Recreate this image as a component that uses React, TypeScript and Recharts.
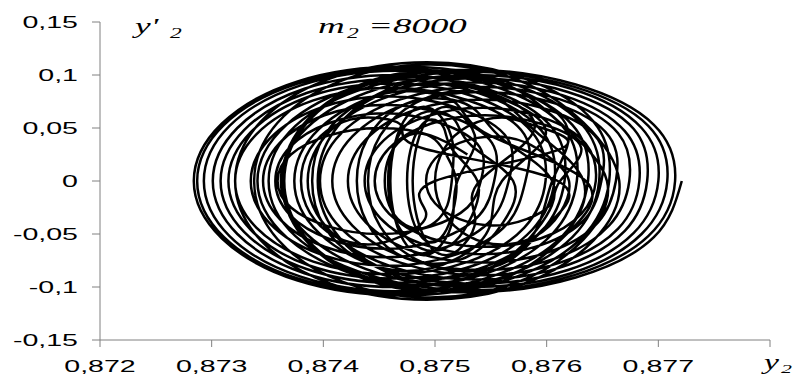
import { LineChart, Line, XAxis, YAxis } from 'recharts';

// phase portrait y2 / y'2, m2 = 8000 - loops (x = y2, y = y'2)
const xTicks = [0.872, 0.873, 0.874, 0.875, 0.876, 0.877, 0.878];
const yTicks = [-0.15, -0.1, -0.05, 0, 0.05, 0.1, 0.15];

// loops centred right of 0.875 (largest first)
const rightLoopX = [
    [0.87721, 0.87696, 0.87626, 0.87531, 0.87436, 0.87367, 0.87341, 0.87367, 0.87436, 0.87531, 0.87626, 0.87696],
    [0.87715, 0.87691, 0.87624, 0.87533, 0.87442, 0.87375, 0.87351, 0.87375, 0.87442, 0.87533, 0.87624, 0.87691],
    [0.87708, 0.87685, 0.87622, 0.87535, 0.87449, 0.87385, 0.87362, 0.87385, 0.87449, 0.87535, 0.87622, 0.87685],
    [0.877, 0.87678, 0.87619, 0.87537, 0.87456, 0.87396, 0.87374, 0.87396, 0.87456, 0.87537, 0.87619, 0.87678],
    [0.8769, 0.8767, 0.87614, 0.87538, 0.87462, 0.87406, 0.87386, 0.87406, 0.87462, 0.87538, 0.87614, 0.8767],
    [0.87683, 0.87664, 0.87612, 0.8754, 0.87469, 0.87416, 0.87397, 0.87416, 0.87469, 0.8754, 0.87612, 0.87664],
    [0.87674, 0.87656, 0.87608, 0.87541, 0.87475, 0.87426, 0.87408, 0.87426, 0.87475, 0.87541, 0.87608, 0.87656],
    [0.87662, 0.87646, 0.87602, 0.87542, 0.87482, 0.87438, 0.87422, 0.87438, 0.87482, 0.87542, 0.87602, 0.87646],
    [0.87649, 0.87635, 0.87596, 0.87543, 0.8749, 0.87451, 0.87437, 0.87451, 0.8749, 0.87543, 0.87596, 0.87635],
    [0.87644, 0.87631, 0.87595, 0.87545, 0.87496, 0.87459, 0.87446, 0.87459, 0.87496, 0.87545, 0.87595, 0.87631],
    [0.87612, 0.87604, 0.87582, 0.87552, 0.87522, 0.875, 0.87492, 0.875, 0.87522, 0.87552, 0.87582, 0.87604],
];
const rightLoopY = [
    [0, -0.053, -0.091, -0.105, -0.091, -0.053, 0, 0.053, 0.091, 0.105, 0.091, 0.053],
    [0, -0.052, -0.089, -0.103, -0.089, -0.052, 0, 0.052, 0.089, 0.103, 0.089, 0.052],
    [0, -0.05, -0.087, -0.1, -0.087, -0.05, 0, 0.05, 0.087, 0.1, 0.087, 0.05],
    [0, -0.049, -0.084, -0.097, -0.084, -0.049, 0, 0.049, 0.084, 0.097, 0.084, 0.049],
    [0, -0.047, -0.081, -0.093, -0.081, -0.047, 0, 0.047, 0.081, 0.093, 0.081, 0.047],
    [0, -0.045, -0.077, -0.089, -0.077, -0.045, 0, 0.045, 0.077, 0.089, 0.077, 0.045],
    [0, -0.042, -0.073, -0.084, -0.073, -0.042, 0, 0.042, 0.073, 0.084, 0.073, 0.042],
    [0, -0.039, -0.067, -0.077, -0.067, -0.039, 0, 0.039, 0.067, 0.077, 0.067, 0.039],
    [0, -0.035, -0.06, -0.069, -0.06, -0.035, 0, 0.035, 0.06, 0.069, 0.06, 0.035],
    [0, -0.031, -0.054, -0.062, -0.054, -0.031, 0, 0.031, 0.054, 0.062, 0.054, 0.031],
    [0, -0.021, -0.036, -0.042, -0.036, -0.021, 0, 0.021, 0.036, 0.042, 0.036, 0.021],
];

// crossing loops in the middle, alternating right / left of 0.875
const crossLoopX = [
    [0.8762, 0.87612, 0.8759, 0.8756, 0.8753, 0.87508, 0.875, 0.87508, 0.8753, 0.8756, 0.8759, 0.87612],
    [0.875, 0.87492, 0.8747, 0.8744, 0.8741, 0.87388, 0.8738, 0.87388, 0.8741, 0.8744, 0.8747, 0.87492],
    [0.8761, 0.87599, 0.87568, 0.87525, 0.87483, 0.87451, 0.8744, 0.87451, 0.87483, 0.87525, 0.87568, 0.87599],
    [0.8756, 0.87549, 0.87518, 0.87475, 0.87433, 0.87401, 0.8739, 0.87401, 0.87433, 0.87475, 0.87518, 0.87549],
    [0.87635, 0.87619, 0.87575, 0.87515, 0.87455, 0.87411, 0.87395, 0.87411, 0.87455, 0.87515, 0.87575, 0.87619],
    [0.87605, 0.87589, 0.87545, 0.87485, 0.87425, 0.87381, 0.87365, 0.87381, 0.87425, 0.87485, 0.87545, 0.87589],
    [0.8754, 0.87536, 0.87525, 0.8751, 0.87495, 0.87484, 0.8748, 0.87484, 0.87495, 0.8751, 0.87525, 0.87536],
    [0.8752, 0.87516, 0.87505, 0.8749, 0.87475, 0.87464, 0.8746, 0.87464, 0.87475, 0.8749, 0.87505, 0.87516],
];
const crossLoopY = [
    [0, -0.03, -0.052, -0.06, -0.052, -0.03, 0, 0.03, 0.052, 0.06, 0.052, 0.03],
    [0, -0.03, -0.052, -0.06, -0.052, -0.03, 0, 0.03, 0.052, 0.06, 0.052, 0.03],
    [0, -0.043, -0.074, -0.085, -0.074, -0.043, 0, 0.043, 0.074, 0.085, 0.074, 0.043],
    [0, -0.043, -0.074, -0.085, -0.074, -0.043, 0, 0.043, 0.074, 0.085, 0.074, 0.043],
    [0, -0.049, -0.085, -0.098, -0.085, -0.049, 0, 0.049, 0.085, 0.098, 0.085, 0.049],
    [0, -0.049, -0.085, -0.098, -0.085, -0.049, 0, 0.049, 0.085, 0.098, 0.085, 0.049],
    [0, -0.035, -0.061, -0.07, -0.061, -0.035, 0, 0.035, 0.061, 0.07, 0.061, 0.035],
    [0, -0.035, -0.061, -0.07, -0.061, -0.035, 0, 0.035, 0.061, 0.07, 0.061, 0.035],
];

// loops around 0.875 (smallest first)
const midLoopX = [
    [0.87515, 0.87511, 0.875, 0.87485, 0.8747, 0.87459, 0.87455, 0.87459, 0.8747, 0.87485, 0.875, 0.87511],
    [0.87519, 0.87516, 0.87508, 0.87497, 0.87486, 0.87478, 0.87475, 0.87478, 0.87486, 0.87497, 0.87508, 0.87516],
    [0.87538, 0.87533, 0.87518, 0.87498, 0.87478, 0.87463, 0.87458, 0.87463, 0.87478, 0.87498, 0.87518, 0.87533],
    [0.8757, 0.87561, 0.87535, 0.875, 0.87465, 0.87439, 0.8743, 0.87439, 0.87465, 0.875, 0.87535, 0.87561],
    [0.87605, 0.87591, 0.87553, 0.875, 0.87448, 0.87409, 0.87395, 0.87409, 0.87448, 0.875, 0.87553, 0.87591],
    [0.87633, 0.87615, 0.87566, 0.87498, 0.87431, 0.87381, 0.87363, 0.87381, 0.87431, 0.87498, 0.87566, 0.87615],
    [0.87654, 0.87633, 0.87575, 0.87496, 0.87417, 0.87359, 0.87338, 0.87359, 0.87417, 0.87496, 0.87575, 0.87633],
    [0.87665, 0.87642, 0.87579, 0.87493, 0.87407, 0.87344, 0.87321, 0.87344, 0.87407, 0.87493, 0.87579, 0.87642],
];
const midLoopY = [
    [0, -0.023, -0.039, -0.045, -0.039, -0.023, 0, 0.023, 0.039, 0.045, 0.039, 0.023],
    [0, -0.029, -0.05, -0.058, -0.05, -0.029, 0, 0.029, 0.05, 0.058, 0.05, 0.029],
    [0, -0.033, -0.057, -0.066, -0.057, -0.033, 0, 0.033, 0.057, 0.066, 0.057, 0.033],
    [0, -0.039, -0.068, -0.078, -0.068, -0.039, 0, 0.039, 0.068, 0.078, 0.068, 0.039],
    [0, -0.046, -0.08, -0.092, -0.08, -0.046, 0, 0.046, 0.08, 0.092, 0.08, 0.046],
    [0, -0.052, -0.09, -0.104, -0.09, -0.052, 0, 0.052, 0.09, 0.104, 0.09, 0.052],
    [0, -0.055, -0.095, -0.11, -0.095, -0.055, 0, 0.055, 0.095, 0.11, 0.095, 0.055],
    [0, -0.056, -0.097, -0.112, -0.097, -0.056, 0, 0.056, 0.097, 0.112, 0.097, 0.056],
];

// loops centred left of 0.875 (largest first)
const leftLoopX = [
    [0.87656, 0.87631, 0.87563, 0.8747, 0.87377, 0.87309, 0.87284, 0.87309, 0.87377, 0.8747, 0.87563, 0.87631],
    [0.87647, 0.87623, 0.87557, 0.87467, 0.87377, 0.87311, 0.87287, 0.87311, 0.87377, 0.87467, 0.87557, 0.87623],
    [0.87637, 0.87614, 0.87551, 0.87465, 0.87379, 0.87316, 0.87293, 0.87316, 0.87379, 0.87465, 0.87551, 0.87614],
    [0.87627, 0.87605, 0.87546, 0.87464, 0.87383, 0.87323, 0.87301, 0.87323, 0.87383, 0.87464, 0.87546, 0.87605],
    [0.87616, 0.87595, 0.87539, 0.87462, 0.87385, 0.87329, 0.87308, 0.87329, 0.87385, 0.87462, 0.87539, 0.87595],
    [0.87607, 0.87587, 0.87534, 0.87461, 0.87388, 0.87335, 0.87315, 0.87335, 0.87388, 0.87461, 0.87534, 0.87587],
    [0.87599, 0.8758, 0.8753, 0.8746, 0.87391, 0.8734, 0.87321, 0.8734, 0.87391, 0.8746, 0.8753, 0.8758],
    [0.87581, 0.87565, 0.8752, 0.87458, 0.87397, 0.87352, 0.87335, 0.87352, 0.87397, 0.87458, 0.8752, 0.87565],
    [0.87566, 0.87551, 0.87511, 0.87456, 0.87401, 0.87361, 0.87346, 0.87361, 0.87401, 0.87456, 0.87511, 0.87551],
    [0.87553, 0.8754, 0.87504, 0.87455, 0.87406, 0.8737, 0.87357, 0.8737, 0.87406, 0.87455, 0.87504, 0.8754],
    [0.87541, 0.87529, 0.87496, 0.8745, 0.87405, 0.87371, 0.87359, 0.87371, 0.87405, 0.8745, 0.87496, 0.87529],
];
const leftLoopY = [
    [0, -0.054, -0.094, -0.108, -0.094, -0.054, 0, 0.054, 0.094, 0.108, 0.094, 0.054],
    [0, -0.053, -0.092, -0.106, -0.092, -0.053, 0, 0.053, 0.092, 0.106, 0.092, 0.053],
    [0, -0.052, -0.09, -0.104, -0.09, -0.052, 0, 0.052, 0.09, 0.104, 0.09, 0.052],
    [0, -0.05, -0.087, -0.1, -0.087, -0.05, 0, 0.05, 0.087, 0.1, 0.087, 0.05],
    [0, -0.048, -0.083, -0.096, -0.083, -0.048, 0, 0.048, 0.083, 0.096, 0.083, 0.048],
    [0, -0.046, -0.08, -0.092, -0.08, -0.046, 0, 0.046, 0.08, 0.092, 0.08, 0.046],
    [0, -0.044, -0.076, -0.088, -0.076, -0.044, 0, 0.044, 0.076, 0.088, 0.076, 0.044],
    [0, -0.04, -0.069, -0.08, -0.069, -0.04, 0, 0.04, 0.069, 0.08, 0.069, 0.04],
    [0, -0.036, -0.062, -0.072, -0.062, -0.036, 0, 0.036, 0.062, 0.072, 0.062, 0.036],
    [0, -0.032, -0.055, -0.064, -0.055, -0.032, 0, 0.032, 0.055, 0.064, 0.055, 0.032],
    [0, -0.025, -0.043, -0.05, -0.043, -0.025, 0, 0.025, 0.043, 0.05, 0.043, 0.025],
];

const families: [number[][], number[][]][] = [
    [rightLoopX, rightLoopY],
    [crossLoopX, crossLoopY],
    [midLoopX, midLoopY],
    [leftLoopX, leftLoopY],
];

// one continuous trajectory, loop after loop
const trajectory = families.flatMap(([xs, ys]) =>
    xs.flatMap((row, i) => row.map((x, j) => ({ x, y: ys[i][j] })))
);

const SANS = '"Liberation Sans", Arial, sans-serif';
const SERIF = '"Liberation Serif", "Times New Roman", serif';
const STRETCH = 1.68; // text in the picture is stretched horizontally

const fmt = (v: number) => String(v).replace('.', ',');

const XTick = ({ x, payload }: any) => {
    const v = payload.value as number;
    const label = Math.abs(v - 0.878) < 1e-9 ? '' : fmt(v);
    return (
        <g transform={`translate(${x},372) scale(${STRETCH},1)`}>
            <text textAnchor="middle" fontSize={17} fontFamily={SANS} fill="#000">{label}</text>
        </g>
    );
};

const YTick = ({ y, payload }: any) => (
    <g transform={`translate(78,${y + 6}) scale(${STRETCH},1)`}>
        <text textAnchor="end" fontSize={17} fontFamily={SANS} fill="#000">{fmt(payload.value)}</text>
    </g>
);

const Italic = ({ x, y, size, children }: any) => (
    <g transform={`translate(${x},${y}) scale(${STRETCH},1)`}>
        <text fontSize={size} fontStyle="italic" fontFamily={SERIF} fill="#000">{children}</text>
    </g>
);

export default function App() {
    return (
        <div style={{ position: 'absolute', left: 0, top: 0, width: 801, height: 376, background: '#fff' }}>
            <LineChart
                width={801}
                height={376}
                data={trajectory}
                margin={{ top: 22, right: 31, bottom: 6, left: 0 }}
            >
                <XAxis
                    type="number"
                    dataKey="x"
                    domain={[0.872, 0.878]}
                    ticks={xTicks}
                    interval={0}
                    allowDataOverflow
                    height={30}
                    tickSize={7}
                    axisLine={{ stroke: '#808080' }}
                    tickLine={{ stroke: '#808080' }}
                    tick={XTick}
                />
                <YAxis
                    type="number"
                    dataKey="y"
                    domain={[-0.15, 0.15]}
                    ticks={yTicks}
                    interval={0}
                    allowDataOverflow
                    width={100}
                    tickSize={8}
                    axisLine={{ stroke: '#808080' }}
                    tickLine={{ stroke: '#808080' }}
                    tick={YTick}
                />
                <Line
                    type="natural"
                    dataKey="y"
                    stroke="#000"
                    strokeWidth={2.5}
                    dot={false}
                    activeDot={false}
                    isAnimationActive={false}
                />
            </LineChart>
            <svg width={801} height={376} style={{ position: 'absolute', left: 0, top: 0, pointerEvents: 'none' }}>
                <Italic x={135} y={33} size={21}>y' </Italic>
                <Italic x={170} y={38} size={14}>2</Italic>
                <Italic x={318} y={33} size={22}>m</Italic>
                <Italic x={347} y={38} size={14}>2</Italic>
                <Italic x={368} y={33} size={22}>=8000</Italic>
                <Italic x={764} y={369} size={20}>y</Italic>
                <Italic x={781} y={373} size={13}>2</Italic>
            </svg>
        </div>
    );
}
